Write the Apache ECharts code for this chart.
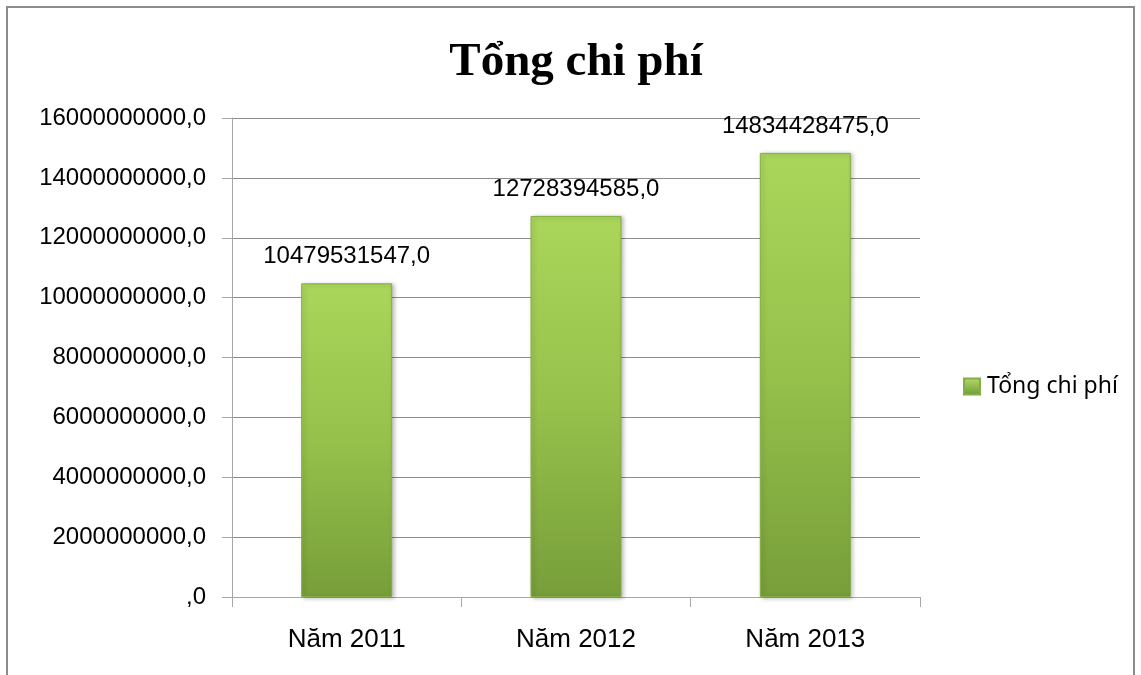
<!DOCTYPE html>
<html><head><meta charset="utf-8">
<script src="https://cdn.jsdelivr.net/npm/echarts@6/dist/echarts.min.js"></script>
<style>html,body{margin:0;padding:0;background:#fff}#c{width:1141px;height:675px}</style>
</head><body><div id="c"></div>
<script>
const categories = ['Năm 2011', 'Năm 2012', 'Năm 2013'];
const seriesName = 'Tổng chi phí';
const values = [10479531547, 12728394585, 14834428475];
const titleText = 'Tổng chi phí';

const chart = echarts.init(document.getElementById('c'), null, {renderer: 'canvas'});
const fmt = v => (v === 0 ? '' : String(v)) + ',0';
const barGrad = new echarts.graphic.LinearGradient(0, 0, 0, 1, [
  {offset: 0, color: '#aad65b'}, {offset: 0.5, color: '#96c14b'}, {offset: 1, color: '#779e3a'}
]);
chart.setOption({
  animation: false,
  backgroundColor: '#fff',
  title: {
    text: titleText, left: 571, top: 34, textAlign: 'center',
    textStyle: {fontFamily: 'Liberation Serif', fontWeight: 'bold', fontSize: 47, color: '#000'}
  },
  legend: {
    left: 958, top: 370, itemWidth: 16, itemHeight: 16, itemGap: 6,
    icon: 'rect',
    textStyle: {fontFamily: 'Noto Sans', fontSize: 23, color: '#000', padding: [0, 0, 0, 2]},
    data: [{name: seriesName, itemStyle: {color: new echarts.graphic.LinearGradient(0,0,0,1,[{offset:0,color:'#b5dc6a'},{offset:1,color:'#6e9a34'}])}}]
  },
  graphic: [{
    type: 'rect', shape: {x: 7, y: 7, width: 1127, height: 720},
    style: {fill: 'none', stroke: '#8c8c8c', lineWidth: 2}, silent: true
  }],
  grid: {left: 232, right: 221, top: 118, bottom: 78},
  xAxis: {
    type: 'category', data: categories,
    axisLine: {lineStyle: {color: '#a6a6a6', width: 1}},
    axisTick: {show: true, length: 10, lineStyle: {color: '#a6a6a6'}},
    axisLabel: {fontFamily: 'Liberation Sans', fontSize: 26, color: '#000', margin: 30}
  },
  yAxis: {
    type: 'value', min: 0, max: 16000000000, interval: 2000000000,
    axisLine: {show: true, lineStyle: {color: '#a6a6a6', width: 1}},
    axisTick: {show: true, length: 10, lineStyle: {color: '#a6a6a6'}},
    splitLine: {lineStyle: {color: '#8c8c8c', width: 1}},
    axisLabel: {fontFamily: 'Liberation Sans', fontSize: 24, color: '#000', margin: 26, formatter: fmt}
  },
  series: [{
    name: seriesName, type: 'bar', data: values, barWidth: 91,
    itemStyle: {
      color: barGrad,
      borderColor: '#86ad45', borderWidth: 1,
      shadowColor: 'rgba(0,0,0,0.25)', shadowBlur: 4, shadowOffsetX: 2, shadowOffsetY: 1
    },
    label: {
      show: true, position: 'top', distance: 15,
      fontFamily: 'Liberation Sans', fontSize: 24, color: '#000',
      formatter: p => p.value + ',0'
    }
  }]
});
</script></body></html>
